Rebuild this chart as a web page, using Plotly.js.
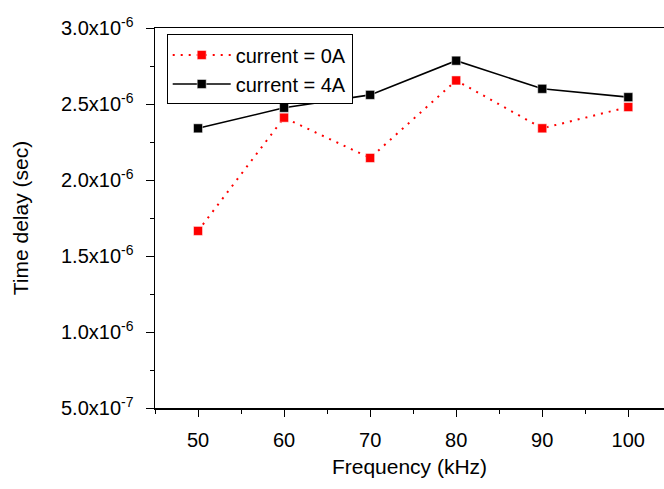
<!DOCTYPE html>
<html>
<head>
<meta charset="utf-8">
<script src="https://cdn.plot.ly/plotly-3.0.1.min.js"></script>
<style>html,body{margin:0;padding:0;background:#fff;overflow:hidden}</style>
</head>
<body>
<div id="chart" style="width:664px;height:489px"></div>
<script>
const frequency = [50, 60, 70, 80, 90, 100];
const delay0A = [1.665e-6, 2.41e-6, 2.145e-6, 2.655e-6, 2.34e-6, 2.48e-6];
const delay4A = [2.34e-6, 2.475e-6, 2.56e-6, 2.785e-6, 2.60e-6, 2.545e-6];
const yTickVals = [5e-7, 1e-6, 1.5e-6, 2e-6, 2.5e-6, 3e-6];
const yMantissa = ['5.0', '1.0', '1.5', '2.0', '2.5', '3.0'];
const yExponent = ['-7', '-6', '-6', '-6', '-6', '-6'];
const xTickVals = [50, 60, 70, 80, 90, 100];

const yTickText = yMantissa.map((m, i) => m + 'x10<sup>' + yExponent[i] + '</sup>');

const fam = 'Liberation Sans, Arial, sans-serif';
const tickFont = {family: fam, size: 20, color: '#000'};
const titleFont = {family: fam, size: 21, color: '#000'};

const traces = [
  {x: frequency, y: delay0A, name: 'current = 0A', mode: 'lines+markers',
   line: {color: '#ff0000', width: 2, dash: '2px,6px'},
   marker: {symbol: 'square', size: 9, color: '#ff0000', line: {color: '#fff', width: 0.5}}},
  {x: frequency, y: delay4A, name: 'current = 4A', mode: 'lines+markers',
   line: {color: '#000', width: 1.6},
   marker: {symbol: 'square', size: 9, color: '#000', line: {color: '#fff', width: 0.5}}}
];

const layout = {
  width: 664, height: 489,
  margin: {l: 155, r: 0, t: 28, b: 81},
  paper_bgcolor: '#fff', plot_bgcolor: '#fff',
  font: tickFont,
  showlegend: true,
  legend: {x: 0.023, y: 0.983, xanchor: 'left', yanchor: 'top',
           bordercolor: '#000', borderwidth: 1, bgcolor: '#fff',
           font: {family: fam, size: 20, color: '#000'},
           tracegroupgap: 0, itemwidth: 58},
  xaxis: {range: [45, 104.15], tickvals: xTickVals, ticks: 'outside', ticklen: 7, tickwidth: 1,
          tickcolor: '#000', showline: true, linecolor: '#000', linewidth: 1.5, mirror: true,
          showgrid: false, zeroline: false, ticklabelstandoff: 6,
          minor: {dtick: 5, ticks: 'outside', ticklen: 4, tickcolor: '#000', tickwidth: 1, showgrid: false},
          tickfont: tickFont,
          title: {text: 'Frequency (kHz)', font: titleFont, standoff: 10}},
  yaxis: {range: [5e-7, 3e-6], tickvals: yTickVals, ticktext: yTickText, ticks: 'outside', ticklen: 8,
          tickwidth: 1, tickcolor: '#000', showline: true, linecolor: '#000', linewidth: 1.5, mirror: false,
          showgrid: false, zeroline: false, ticklabelstandoff: 8,
          minor: {tickvals: [7.5e-7, 1.25e-6, 1.75e-6, 2.25e-6, 2.75e-6], ticks: 'outside', ticklen: 4, tickcolor: '#000', tickwidth: 1, showgrid: false},
          tickfont: tickFont,
          title: {text: 'Time delay (sec)', font: titleFont, standoff: 26}}
};

Plotly.newPlot('chart', traces, layout, {displayModeBar: false, staticPlot: true});
</script>
</body>
</html>
